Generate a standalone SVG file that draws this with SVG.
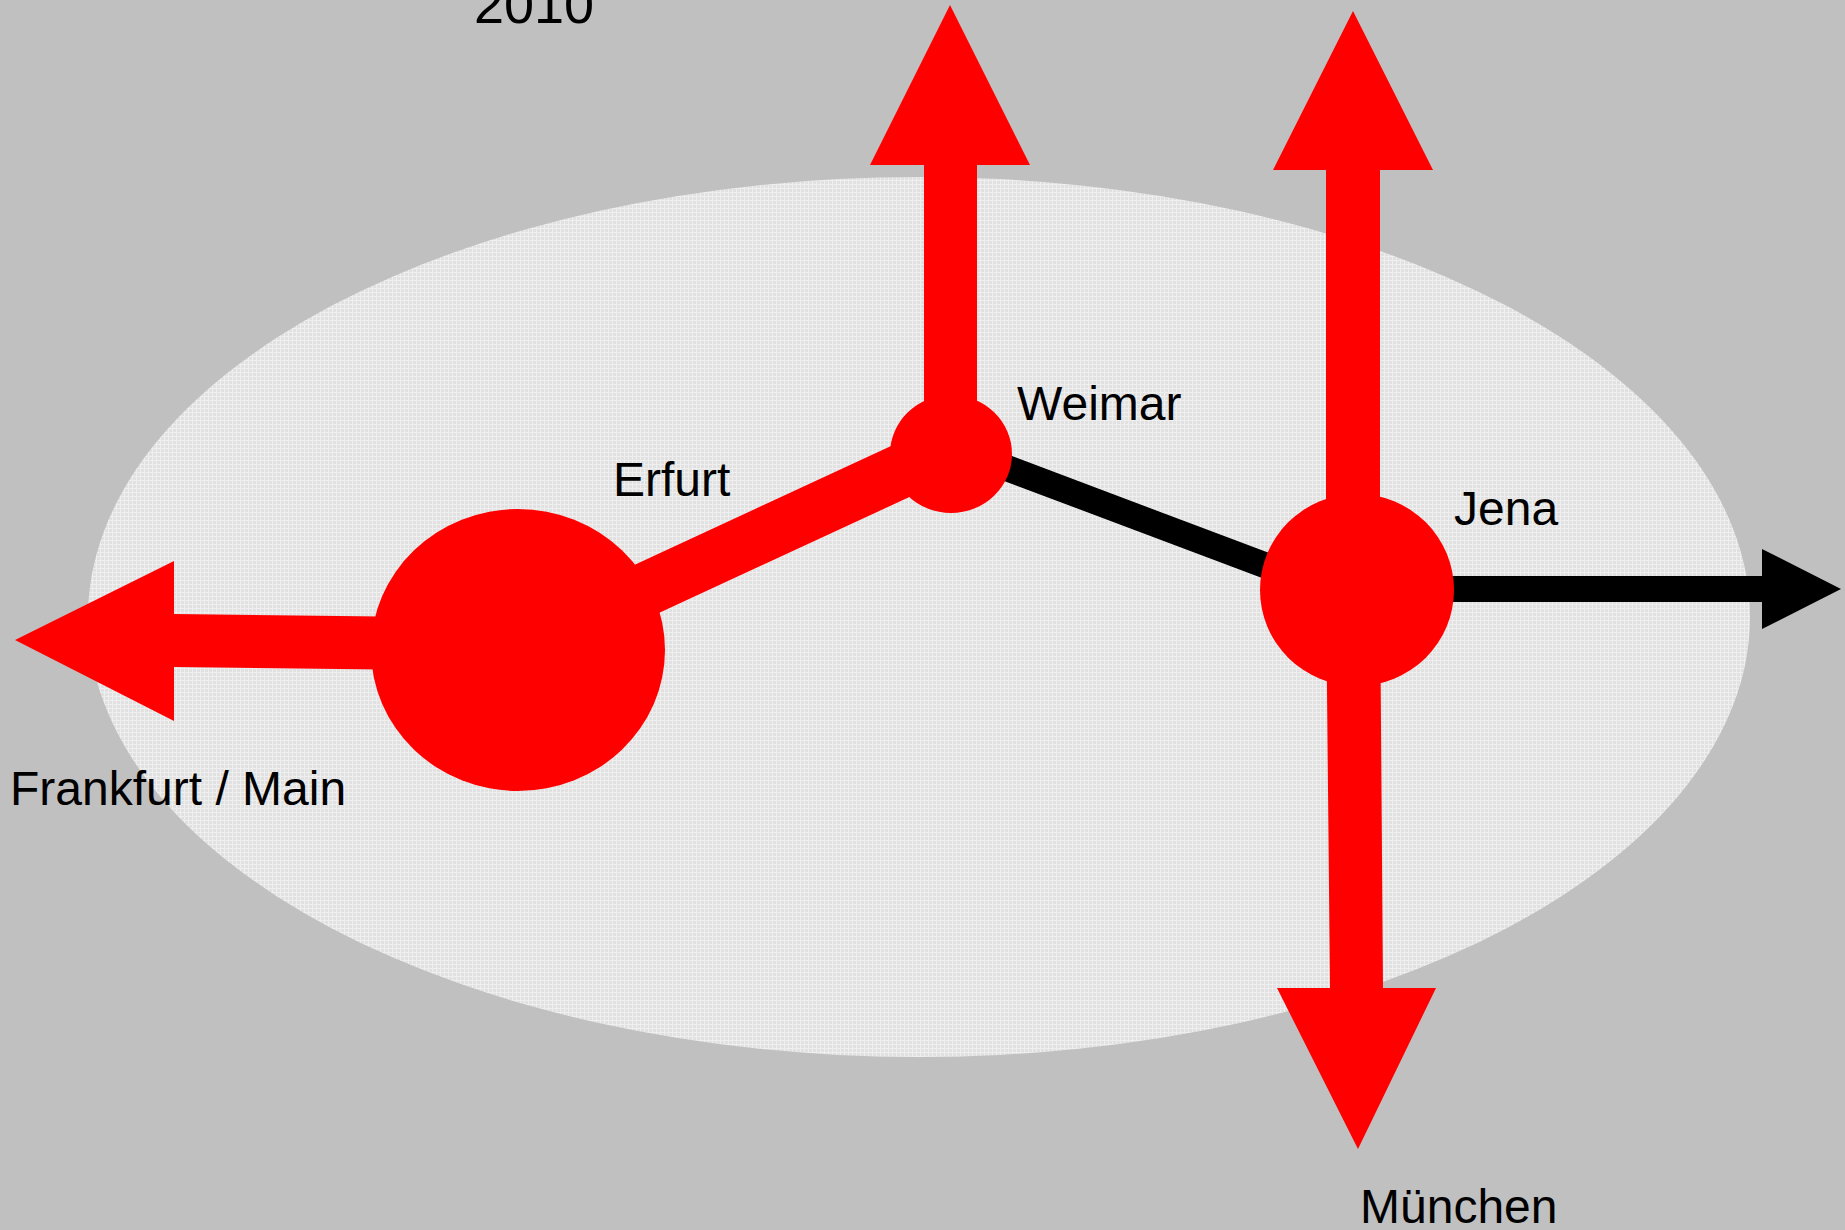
<svg xmlns="http://www.w3.org/2000/svg" width="1845" height="1230" viewBox="0 0 1845 1230">
  <defs>
    <pattern id="tex" width="4" height="4" patternUnits="userSpaceOnUse">
      <rect width="4" height="4" fill="#e1e1e1"/>
      <rect width="4" height="1" fill="#efefef"/>
      <rect width="1" height="4" fill="#efefef"/>
    </pattern>
  </defs>
  <style>
    .lbl { font-family: "Liberation Sans", Arial, sans-serif; font-size: 48px; fill: #000; }
    .red { fill: #ff0000; }
    .blk { fill: #000; }
  </style>
  <rect x="0" y="0" width="1845" height="1230" fill="#c0c0c0"/>
  <g id="region">
    <ellipse cx="919" cy="617" rx="831" ry="440" fill="url(#tex)"/>
  </g>
  <text id="year" class="lbl" x="474" y="23" style="font-size:54px">2010</text>
  <g id="connectors">
    <polygon class="red" points="15,640 174,561 174,614 520,618 520,671 174,667 174,721"/>
    <line x1="517" y1="649" x2="951" y2="448" stroke="#ff0000" stroke-width="54"/>
    <polygon class="red" points="950,5 1030,165 977,165 977,455 924,455 924,165 870,165"/>
    <line x1="951" y1="447" x2="1357" y2="600" stroke="#000" stroke-width="26"/>
    <polygon class="red" points="1353,11 1433,170 1380,170 1380,590 1326,590 1326,170 1273,170"/>
    <polygon class="red" points="1326,590 1380,590 1383,988 1436,988 1358,1149 1277,988 1330,988"/>
    <polygon class="blk" points="1357,576 1762,576 1762,549 1841,589 1762,629 1762,602 1357,602"/>
  </g>
  <g id="erfurt">
    <ellipse class="red" cx="518" cy="650" rx="147" ry="141"/>
    <text class="lbl" x="613" y="496">Erfurt</text>
  </g>
  <g id="weimar">
    <ellipse class="red" cx="951" cy="454" rx="61" ry="59"/>
    <text class="lbl" x="1017" y="420">Weimar</text>
  </g>
  <g id="jena">
    <ellipse class="red" cx="1357" cy="590" rx="97" ry="96"/>
    <text class="lbl" x="1454" y="525">Jena</text>
  </g>
  <g id="frankfurt">
    <text class="lbl" x="10" y="805">Frankfurt / Main</text>
  </g>
  <g id="muenchen">
    <text class="lbl" x="1360" y="1223">München</text>
  </g>
</svg>
